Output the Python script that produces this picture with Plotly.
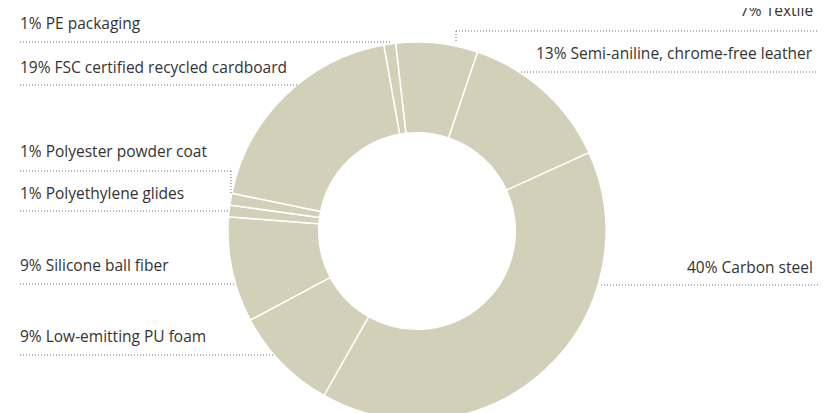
import plotly.graph_objects as go

# ---- data ----
materials = ["Textile", "Semi-aniline, chrome-free leather", "Carbon steel",
             "Low-emitting PU foam", "Silicone ball fiber", "Polyethylene glides",
             "Polyester powder coat", "FSC certified recycled cardboard", "PE packaging"]
shares = [7, 13, 40, 9, 9, 1, 1, 19, 1]

# ---- layout / style ----
W, H = 826, 413
FILL = "#d3d0b9"
TEXT = "#333333"
DOT = "#6f6f6f"
FONT = "Open Sans"
FSIZE = 15.5

# label placement (px): side, text x, baseline y
label_pos = {
    "Textile": ("right", 807, 8),
    "Semi-aniline, chrome-free leather": ("right", 807, 50),
    "Carbon steel": ("right", 807, 264),
    "Low-emitting PU foam": ("left", 10, 333),
    "Silicone ball fiber": ("left", 10, 262),
    "Polyethylene glides": ("left", 10, 190),
    "Polyester powder coat": ("left", 10, 149),
    "FSC certified recycled cardboard": ("left", 10, 64),
    "PE packaging": ("left", 10, 20),
}
# leader polylines (px)
leaders = [
    [(448, 23), (810, 23)], [(448, 23), (448, 33)],
    [(513, 64), (810, 64)],
    [(593, 277), (810, 277)],
    [(12, 347), (267, 347)],
    [(12, 276), (227, 276)],
    [(12, 203), (221, 203)],
    [(12, 163), (223, 163)], [(223, 163), (223, 186)],
    [(12, 77), (289, 77)],
    [(12, 34), (383, 34)],
]

CX, CY, R = 409, 223, 189


def px(x):
    return x / W


def py(y):
    return 1 - y / H


fig = go.Figure(go.Pie(
    labels=materials, values=shares, sort=False, direction="clockwise",
    rotation=-6.5, hole=0.52, textinfo="none",
    marker=dict(colors=[FILL] * len(shares), line=dict(color="white", width=1.5)),
    domain=dict(x=[px(CX - R), px(CX + R)], y=[py(CY + R), py(CY - R)]),
    showlegend=False,
))

annotations = []
for name, v in zip(materials, shares):
    side, x, base = label_pos[name]
    annotations.append(dict(
        text=f"{v}% {name}", x=px(x), y=py(base - 5.5), xref="paper", yref="paper",
        xanchor=side, yanchor="middle", showarrow=False,
        font=dict(family=FONT, size=FSIZE, color=TEXT)))

shapes = []
for seg in leaders:
    (x0, y0), (x1, y1) = seg
    shapes.append(dict(type="line", xref="paper", yref="paper",
                       x0=px(x0), y0=py(y0), x1=px(x1), y1=py(y1),
                       line=dict(color=DOT, width=1, dash="1px,2px")))

fig.update_layout(width=W, height=H, margin=dict(l=0, r=0, t=0, b=0),
                  paper_bgcolor="white", plot_bgcolor="white",
                  annotations=annotations, shapes=shapes)

fig.write_html("out.html")
